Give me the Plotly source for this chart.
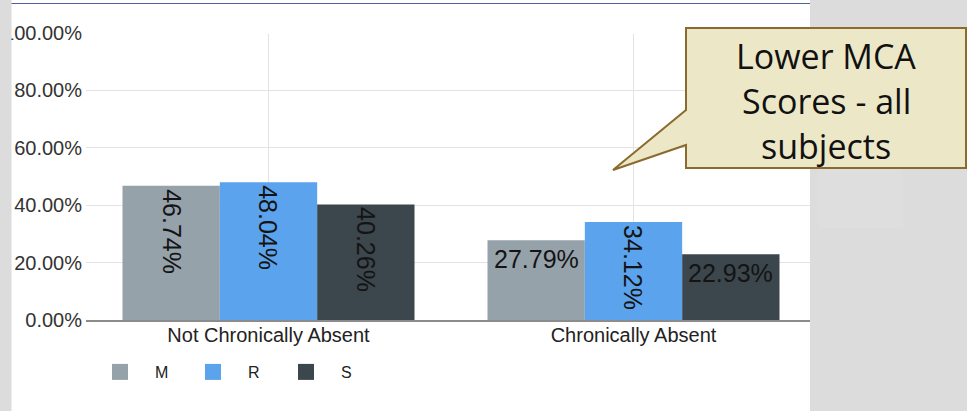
import plotly.graph_objects as go

# ---------------- data ----------------
categories = ["Not Chronically Absent", "Chronically Absent"]
series_names = ["M", "R", "S"]
m_values = [0.4674, 0.2779]
r_values = [0.4804, 0.3412]
s_values = [0.4026, 0.2293]
m_rotated = [True, False]
r_rotated = [True, True]
s_rotated = [True, False]
y_tick_values = [0.0, 0.2, 0.4, 0.6, 0.8, 1.0]
callout_lines = ["Lower MCA", "Scores - all", "subjects"]

series_values = [m_values, r_values, s_values]
series_rotated = [m_rotated, r_rotated, s_rotated]
colors = ["#96a2aa", "#5ba3ec", "#3c464d"]

# ---------------- layout geometry ----------------
W, H = 967, 411
PL, PR, PT, PB = 86, 816, 33, 320      # plot area in pixels
BARGAP = 0.2
FONT = "Liberation Sans, Arial, sans-serif"


def fx(px):
    return (px - PL) / (PR - PL)


def fy(py):
    return (PB - py) / (PB - PT)


fig = go.Figure()

for name, vals, col in zip(series_names, series_values, colors):
    fig.add_trace(go.Bar(
        x=categories, y=vals, name=name, marker=dict(color=col, line=dict(width=0)),
        showlegend=False, hoverinfo="skip",
    ))
for name, col in zip(series_names, colors):
    fig.add_trace(go.Scatter(
        x=[None], y=[None], mode="markers", name=name,
        marker=dict(symbol="square", size=16, color=col),
    ))

# bar value labels
cat_px = (PR - PL) / len(categories)
bar_px = cat_px * (1 - BARGAP) / len(series_names)
annotations = []
for i, (vals, rots) in enumerate(zip(series_values, series_rotated)):
    offset = (i - (len(series_names) - 1) / 2) * bar_px
    for cat, v, rot in zip(categories, vals, rots):
        annotations.append(dict(
            x=cat, y=v, xref="x", yref="y", text=f"{v*100:.2f}%",
            showarrow=False, textangle=90 if rot else 0,
            xanchor="center", yanchor="top", xshift=offset,
            yshift=-1 if rot else -3,
            font=dict(family=FONT, size=25, color="#141414"),
        ))

# callout text lines
line_y = [56, 101, 146]
for txt, ly in zip(callout_lines, line_y):
    annotations.append(dict(
        x=fx(826), y=fy(ly), xref="paper", yref="paper", text=txt,
        showarrow=False, xanchor="center", yanchor="middle",
        font=dict(family="Open Sans, sans-serif", size=34, color="#111111"),
    ))

shapes = [
    # white slide chart panel
    dict(type="rect", xref="paper", yref="paper", x0=fx(11), x1=fx(810), y0=fy(0), y1=fy(H),
         fillcolor="white", line=dict(width=0), layer="below"),
    # thin blue line at top
    dict(type="line", xref="paper", yref="paper", x0=fx(11), x1=fx(810), y0=fy(3.5), y1=fy(3.5),
         line=dict(color="#4b5ea6", width=1.2), layer="below"),
    # no visible gridline at the very top of the plot
    dict(type="line", xref="paper", yref="paper", x0=0, x1=fx(810), y0=1, y1=1,
         line=dict(color="white", width=1.5), layer="above"),
    # left grey strip
    dict(type="rect", xref="paper", yref="paper", x0=fx(0), x1=fx(11.5), y0=fy(0), y1=fy(H),
         fillcolor="#dcdcdc", line=dict(width=0), layer="above"),
    # right grey region
    dict(type="rect", xref="paper", yref="paper", x0=fx(810), x1=fx(W), y0=fy(0), y1=fy(H),
         fillcolor="#dcdcdc", line=dict(width=0), layer="above"),
    dict(type="rect", xref="paper", yref="paper", x0=fx(818), x1=fx(903), y0=fy(150), y1=fy(228),
         fillcolor="#dedede", line=dict(width=0), layer="above"),
]

# callout bubble
pts = [(686, 28), (966, 28), (966, 168), (686, 168), (686, 145), (613, 170), (686, 110)]
path = "M " + " L ".join(f"{fx(x):.5f},{fy(y):.5f}" for x, y in pts) + " Z"
shapes.append(dict(type="path", xref="paper", yref="paper", path=path,
                   fillcolor="#ece8c7", line=dict(color="#8b6a2d", width=2), layer="above"))

fig.update_layout(
    width=W, height=H,
    margin=dict(l=PL, r=W - PR, t=PT, b=H - PB, pad=0, autoexpand=False),
    paper_bgcolor="#dcdcdc", plot_bgcolor="rgba(0,0,0,0)",
    barmode="group", bargap=BARGAP, bargroupgap=0,
    font=dict(family=FONT, color="#222222"),
    showlegend=True,
    legend=dict(orientation="h", xref="container", yref="container",
                x=85 / W, y=1 - 372 / H, xanchor="left", yanchor="middle",
                itemwidth=60, entrywidth=18, entrywidthmode="pixels",
                font=dict(family=FONT, size=16, color="#222222"),
                bgcolor="rgba(0,0,0,0)", itemclick=False, itemdoubleclick=False),
    annotations=annotations, shapes=shapes,
)
fig.update_xaxes(
    type="category", showgrid=True, gridcolor="#e3e3e3", gridwidth=1,
    showline=True, linecolor="#8c8c8c", linewidth=2, ticks="", automargin=False,
    ticklabelstandoff=-4,
    tickfont=dict(family=FONT, size=20, color="#222222"), fixedrange=True,
)
fig.update_yaxes(
    range=[0, 1.0], tickvals=y_tick_values, tickformat=".2%", automargin=False,
    showgrid=True, gridcolor="#e3e3e3", gridwidth=1, zeroline=False,
    showline=False, ticks="", ticklabelstandoff=3,
    tickfont=dict(family=FONT, size=20, color="#333333"), fixedrange=True,
)

fig.write_html(
    "out.html",
    config={"displayModeBar": False},
    post_script="document.body.style.margin='0';document.body.style.overflow='hidden';",
)
